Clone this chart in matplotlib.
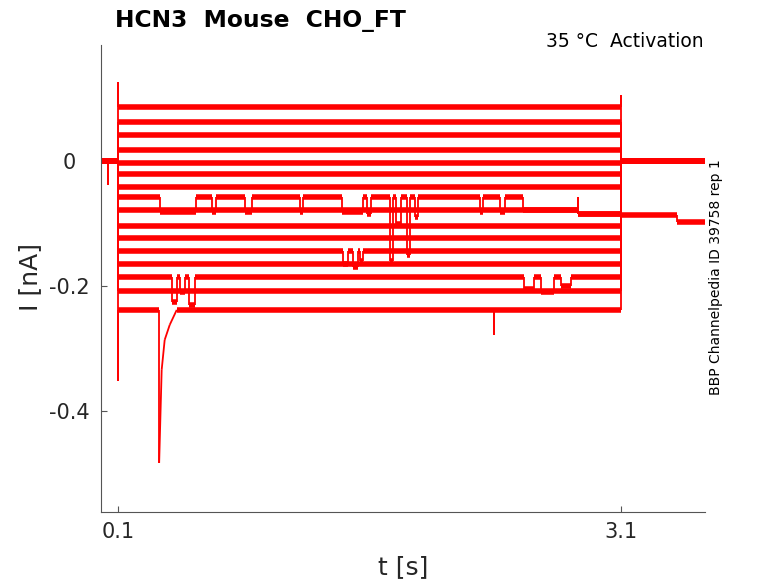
import matplotlib
matplotlib.use("Agg")
import matplotlib.pyplot as plt
from matplotlib.collections import LineCollection

# protocol times [s]
t_on = 0.1
t_off = 3.1
t_end = 3.6
t_tail_shift = 3.43

# current of each sweep during the step [nA], top to bottom
step_I = [0.087, 0.062, 0.042, 0.018, -0.003, -0.021, -0.042, -0.058,
          -0.078, -0.103, -0.123, -0.144, -0.165, -0.186, -0.208, -0.238]
# current after the step, early and late part of the tail
tail_I = [0, 0, 0, 0, 0, 0, 0, -0.086, 0, 0, 0, 0, 0, 0, 0, 0]
tail_late_I = [0, 0, 0, 0, 0, 0, 0, -0.097, 0, 0, 0, 0, 0, 0, 0, 0]

# capacitive spikes at step on / off
onset_spike = {0: 0.127, 15: -0.352}
offset_spike = {0: 0.106}
# small dip before the step
pre_dip_t = 0.037
pre_dip_I = -0.038

# excursions from the step level: (t start, t end, I)
excursions = {
    7: [(0.348, 0.563, -0.082), (0.659, 0.683, -0.082), (0.856, 0.898, -0.082),
        (1.185, 1.203, -0.082), (1.436, 1.562, -0.082), (1.586, 1.609, -0.085),
        (1.72, 1.74, -0.16), (1.76, 1.79, -0.10), (1.82, 1.84, -0.15),
        (1.87, 1.89, -0.09), (2.261, 2.279, -0.082), (2.380, 2.410, -0.082),
        (2.512, 2.84, -0.078), (2.84, 3.1, -0.084)],
    8: [(2.84, 3.1, -0.084)],
    11: [(1.44, 1.47, -0.165), (1.50, 1.53, -0.17), (1.545, 1.56, -0.16)],
    13: [(0.42, 0.45, -0.225), (0.47, 0.50, -0.21), (0.52, 0.56, -0.23),
         (2.52, 2.58, -0.205), (2.62, 2.70, -0.21), (2.74, 2.80, -0.20)],
    15: [(2.343, 2.343, -0.278)],
}
# fast transient of the last sweep
transient_t = [0.345, 0.345, 0.36, 0.378, 0.408, 0.45]
transient_I = [-0.238, -0.483, -0.334, -0.286, -0.262, -0.238]
transient_sweep = 15


def build_sweep(k):
    lvl = step_I[k]
    t = [0.0]
    i = [0.0]
    if k == 4:
        t += [pre_dip_t, pre_dip_t, pre_dip_t]
        i += [0.0, pre_dip_I, 0.0]
    t.append(t_on)
    i.append(0.0)
    if k in onset_spike:
        t.append(t_on)
        i.append(onset_spike[k])
    t.append(t_on)
    i.append(lvl)
    if k == transient_sweep:
        t += transient_t
        i += transient_I
    for a, b, v in excursions.get(k, []):
        t += [a, a, b, b]
        i += [lvl, v, v, lvl]
    t.append(t_off)
    i.append(i[-1])
    if k in offset_spike:
        t.append(t_off)
        i.append(offset_spike[k])
    t += [t_off, t_tail_shift, t_tail_shift, t_end]
    i += [tail_I[k], tail_I[k], tail_late_I[k], tail_late_I[k]]
    return t, i


fig = plt.figure(figsize=(7.78, 5.83), dpi=100)
ax = fig.add_axes([0.1302, 0.1213, 0.776, 0.8015])

for k in range(len(step_I)):
    t, i = build_sweep(k)
    segs = []
    widths = []
    for j in range(len(t) - 1):
        if t[j] == t[j + 1] and i[j] == i[j + 1]:
            continue
        segs.append([(t[j], i[j]), (t[j + 1], i[j + 1])])
        # noisy plateaus look like thick bands, fast jumps are thin
        widths.append(4.0 if i[j] == i[j + 1] else 1.3)
    lc = LineCollection(segs, colors="#ff0000", linewidths=widths, capstyle="butt")
    ax.add_collection(lc)

ax.set_xlim(0, t_end)
ax.set_ylim(-0.562, 0.186)
ax.set_xticks([0.1, 3.1])
ax.set_xticklabels(["0.1", "3.1"])
ax.set_yticks([-0.4, -0.2, 0])
ax.set_yticklabels(["-0.4", "-0.2", "0"])

for s in ["top", "right"]:
    ax.spines[s].set_visible(False)
for s in ["left", "bottom"]:
    ax.spines[s].set_color("#555555")
    ax.spines[s].set_linewidth(0.8)
ax.tick_params(axis="both", direction="in", length=4.3, width=0.8, color="#555555",
               labelsize=15, labelcolor="#262626")
ax.tick_params(axis="y", pad=23)
ax.tick_params(axis="x", pad=7)
for lab in ax.get_yticklabels():
    lab.set_horizontalalignment("center")

fig.text(30 / 778, 1 - 277 / 583, "I [nA]", rotation=90, ha="center", va="center",
         fontsize=18, color="#262626")
fig.text(403 / 778, 1 - 567 / 583, "t [s]", ha="center", va="center",
         fontsize=18, color="#262626")
fig.text(115 / 778, 1 - 27 / 583, "HCN3  Mouse  CHO_FT", ha="left", va="baseline",
         fontsize=16.8, fontweight="bold", color="black")
fig.text(704 / 778, 1 - 46.7 / 583, "35 °C  Activation", ha="right", va="baseline",
         fontsize=13.5, color="black")
fig.text(716 / 778, 1 - 277 / 583, "BBP Channelpedia ID 39758 rep 1", rotation=90,
         ha="center", va="center", fontsize=10, color="black")

fig.savefig("out.png", dpi=100)
